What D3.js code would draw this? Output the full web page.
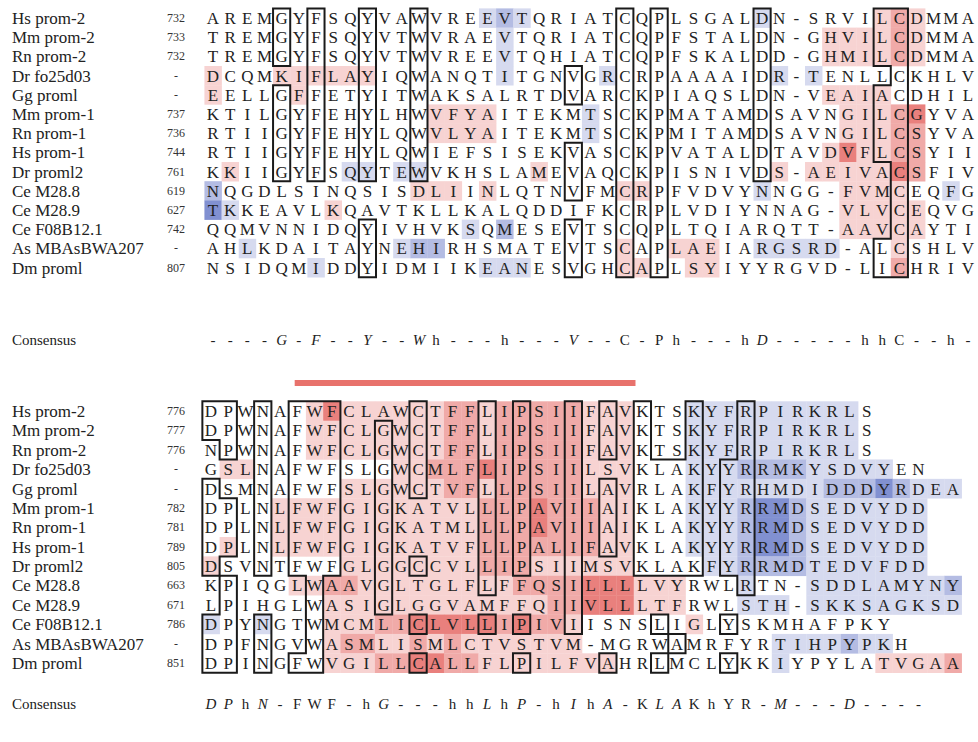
<!DOCTYPE html>
<html><head><meta charset="utf-8">
<script src="https://cdn.jsdelivr.net/npm/d3@7"></script>
<style>body{margin:0;background:#fff}</style>
</head><body>
<svg id="c" width="978" height="742" font-family="Liberation Serif"></svg>
<script>
// ---------------- DATA ----------------
const names = ["Hs prom-2","Mm prom-2","Rn prom-2","Dr fo25d03","Gg proml","Mm prom-1","Rn prom-1","Hs prom-1","Dr proml2","Ce M28.8","Ce M28.9","Ce F08B12.1","As MBAsBWA207","Dm proml"];
const startsTop = ["732","733","732","-","-","737","736","744","761","619","627","742","-","807"];
const startsBottom = ["776","777","776","-","-","782","781","789","805","663","671","786","-","851"];
const seqTop = [
 "AREMGYFSQYVAWVREEVTQRIATCQPLSGALDN-SRVILCDMMA",
 "TREMGYFSQYVTWVRAEVTQRIATCQPFSTALDN-GHVILCDMMA",
 "TREMGYFSQYVTWVREEVTQHIATCQPFSKALDD-GHMILCDMMA",
 "DCQMKIFLAYIQWANQTITGNVGRCRPAAAAIDR-TENLLCKHLV",
 "EELLGFFETYITWAKSALRTDVARCKPIAQSLDN-VEAIACDHIL",
 "KTILGYFEHYLHWVFYAITEKMTSCKPMATAMDSAVNGILCGYVA",
 "RTIIGYFEHYLQWVLYAITEKMTSCKPMITAMDSAVNGILCSYVA",
 "RTIIGYFEHYLQWIEFSISEKVASCKPVATALDTAVDVFLCSYII",
 "KKIIGYFSQYTEWVKHSLAMEVAQCKPISNIVDS-AEIVACSFIV",
 "NQGDLSINQSISDLIINLQTNVFMCRPFVDVYNNGG-FVMCEQFG",
 "TKKEAVLKQAVTKLLKALQDDIFKCRPLVDIYNNAG-VLVCEQVG",
 "QQMVNNIDQYIVHVKSQMESEVTSCQPLTQIARQTT-AAVCAYTI",
 "AHLKDAITAYNEHIRHSMATEVTSCAPLAEIARGSRD-ALCSHLV",
 "NSIDQMIDDYIDMIIKEANESVGHCAPLSYIYYRGVD-LICHRIV"
];
const seqBottom = [
 "DPWNAFWFCLAWCTFFLIPSIIFAVKTSKYFRPIRKRLS",
 "DPWNAFWFCLGWCTFFLIPSIIFAVKTSKYFRPIRKRLS",
 "NPWNAFWFCLGWCTFFLIPSIIFAVKTSKYFRPIRKRLS",
 "GSLNAFWFSLGWCMLFLIPSIILSVKLAKYYRRMKYSDVYEN",
 "DSMNAFWFSLGWCTVFLLPSIILAVRLAKFYRHMDIDDDYRDEA",
 "DPLNLFWFGIGKATVLLLPAVIIAIKLAKYYRRMDSEDVYDD",
 "DPLNLFWFGIGKATMLLLPAVIIAIKLAKYYRRMDSEDVYDD",
 "DPLNLFWFGIGKATVFLLPALIFAVKLAKYYRRMDSEDVYDD",
 "DSVNTFWFGLGGCCVLLIPSIIMSVKLAKFYRRMDTEDVFDD",
 "KPIQGLWAAVGLTGLFLFFQSILLLLVYRWLRTN-SDDLAMYNY",
 "LPIHGLWASIGLGGVAMFFQIIVLLLTFRWLSTH-SKKSAGKSD",
 "DPYNGTWMCMLICLVLLIPIVIISNSLIGLYSKMHAFPKY",
 "DPFNGVWASMLISMLCTVSTVM-MGRWAMRFYRTIHPYPKH",
 "DPINGFWVGILLCALLFLPILFVAHRLMCLYKKIYPYLATVGAA"
];
const consensusTop    = "----G-F--Y--Wh---h---V--C-Ph---hD-----hhC--h-";
const consensusBottom = "DPhN-FWF-hG---hhLhP-hIhA-KLAKhYR-M---D----";
const italicTop = "GFYWVD";
const italicBottom = "DPNGLIAM";
// shading: code@col or code@from-to ; 1..3 red intensity, a..c blue intensity
const shadeTop = [
 "a@16 b@17 a@18 a@32 1@39 2@40 1@41",
 "a@17 1@36-39 2@40 1@41",
 "a@17 1@36-39 2@40 1@41",
 "1@0 1@4-9 a@17 a@23 a@33 a@35",
 "1@0 1@5 1@36-39",
 "1@13-16 a@22 1@37-39 2@40 3@41",
 "1@13-16 a@22 1@37-39 2@40 2@41",
 "1@36 3@37 1@38-39 2@40 2@41",
 "1@1 a@8-9 a@11-12 1@19 1@33 1@35-39 3@40 2@41",
 "b@0 1@12-14 1@16 1@24-25 a@32 1@37-40 a@43",
 "c@0 a@1 1@7 1@37-41",
 "a@15 b@17 1@37-41",
 "a@2 a@11 b@12-13 1@24 1@27-29 a@32-36 1@40",
 "a@6 a@16-18 1@24-25 1@28-29 2@40"
];
const shadeBottom = [
 "1@6 3@7 1@8-13 2@14-15 1@16 2@17-21 1@22-24 a@28-37",
 "1@6-13 2@14-15 1@16 2@17-21 1@22-24 a@28-37",
 "1@6-13 2@14-15 1@16 2@17-21 1@22-24 a@28-37",
 "1@1-2 1@11-12 2@13-15 3@16 2@17-21 1@22-24 a@28-30 b@31-34 a@35-39",
 "1@8-13 2@14-15 1@16 2@17-21 1@22-24 a@28-35 b@36-38 c@39 b@40 a@41-43",
 "1@4-15 2@16-18 3@19 2@20-22 1@23-24 a@28-30 b@31 c@32-33 b@34 a@35-41",
 "1@4-15 2@16-18 3@19 2@20-22 1@23-24 a@28-30 b@31 c@32-33 b@34 a@35-41",
 "1@1 1@4-15 2@16-22 1@23-24 a@28-30 b@31 c@32-33 b@34 a@35-41",
 "1@0 1@8-15 2@16-18 1@19-24 a@29-30 b@31-34 a@35-41",
 "1@5-6 2@7-8 1@9-17 2@18-21 3@22-24 1@25-27 a@31 a@35-42 b@43",
 "1@7-19 2@20-21 3@22-24 1@25-27 a@31-33 a@35-43",
 "a@0 a@3 1@7-9 2@10-11 3@12-16 2@17 3@18 2@19-20 1@21 1@28",
 "1@7 2@8-9 1@10-11 2@12 1@13 2@14 1@15-21 a@33-36 b@37 a@38-39",
 "1@7-9 2@10-11 3@12-13 2@14-15 1@16-23 a@33 1@39-42 2@43"
];
// boxes: each group = list of [col, rowFrom, rowTo]
const boxesTop = [
 [[4,0,2]], [[4,4,8]], [[6,0,8]], [[9,0,8]], [[9,11,13]], [[12,0,8]],
 [[21,3,4]], [[21,7,9]], [[21,11,13]], [[24,0,13]], [[26,0,13]], [[32,0,8]],
 [[40,0,13],[39,0,2],[39,4,7],[39,12,13]]
];
const boxesBottom = [
 [[0,0,1],[1,0,2]], [[0,4,8],[1,5,7]], [[1,9,10],[0,11,13],[1,11,13]],
 [[3,0,8]], [[3,11,13]],
 [[5,0,8],[6,0,13],[7,0,8],[5,13,13]],
 [[10,1,10]], [[12,0,4]], [[12,8,8]], [[12,11,11]], [[12,13,13]],
 [[16,0,9]], [[16,11,11]], [[18,0,8]], [[18,11,11]], [[18,13,13]],
 [[21,0,11]], [[23,0,2]], [[23,4,7]], [[23,13,13]],
 [[25,0,8],[26,3,8],[27,3,8],[28,0,8]],
 [[31,0,9],[30,3,8]],
 [[26,11,11],[27,12,12],[26,13,13]],
 [[30,11,11]], [[30,13,13]]
];
const highlightCols = [5, 24];

// ---------------- DRAW ----------------
const colors = {"1":"#f7d3d2","2":"#f0aaa8","3":"#e9807d","a":"#d6daef","b":"#b4bce3","c":"#8190d1"};
const FONT = "Liberation Serif";
const svg = d3.select("#c");

function parseShade(s){
  const m = new Map();
  s.split(/\s+/).filter(Boolean).forEach(t=>{
    const [code, rng] = t.split("@");
    const [a,b] = rng.split("-").map(Number);
    for(let i=a;i<=(b===undefined?a:b);i++) m.set(i, code);
  });
  return m;
}

function drawBlock(cfg){
  const {seqs, starts, shades, boxes, consensus, italics, x0, x1, ncol, y0, y1, consY} = cfg;
  const x = d3.scaleLinear().domain([0, ncol-1]).range([x0, x1]);
  const y = d3.scaleLinear().domain([0, names.length-1]).range([y0, y1]);
  const cw = x(1)-x(0), ch = y(1)-y(0);
  const g = svg.append("g");
  shades.forEach((s,r)=>{
    parseShade(s).forEach((code,c)=>{
      g.append("rect").attr("x", x(c)-cw/2).attr("y", y(r)-ch/2)
        .attr("width", cw+0.3).attr("height", ch+0.3).attr("fill", colors[code]);
    });
  });
  names.forEach((n,r)=>{
    g.append("text").attr("x",12).attr("y",y(r)+6)
      .attr("font-family",FONT).attr("font-size",17).attr("fill","#222").text(n);
    g.append("text").attr("x",176).attr("y",y(r)+4).attr("text-anchor","middle")
      .attr("font-family",FONT).attr("font-size",12).attr("fill","#333").text(starts[r]);
  });
  seqs.forEach((s,r)=>{
    g.selectAll(null).data(s.split("")).enter().append("text")
      .attr("x",(d,i)=>x(i)).attr("y",y(r)+6).attr("text-anchor","middle")
      .attr("font-family",FONT).attr("font-size",17).attr("fill","#222").text(d=>d);
  });
  boxes.forEach(grp=>{
    const set = new Set();
    grp.forEach(([c,a,b])=>{ for(let r=a;r<=b;r++) set.add(r+","+c); });
    const has=(r,c)=>set.has(r+","+c);
    let p = d3.path();
    set.forEach(k=>{
      const [r,c]=k.split(",").map(Number);
      const L=x(c)-cw/2, R=x(c)+cw/2, T=y(r)-ch/2, B=y(r)+ch/2;
      if(!has(r-1,c)){p.moveTo(L,T);p.lineTo(R,T);}
      if(!has(r+1,c)){p.moveTo(L,B);p.lineTo(R,B);}
      if(!has(r,c-1)){p.moveTo(L,T);p.lineTo(L,B);}
      if(!has(r,c+1)){p.moveTo(R,T);p.lineTo(R,B);}
    });
    g.append("path").attr("d",p.toString()).attr("fill","none").attr("stroke","#1a1a1a")
      .attr("stroke-width",2).attr("stroke-linecap","square");
  });
  g.append("text").attr("x",12).attr("y",consY+5)
    .attr("font-family",FONT).attr("font-size",15).attr("fill","#222").text("Consensus");
  g.selectAll(null).data(consensus.split("")).enter().append("text")
    .attr("x",(d,i)=>x(i)).attr("y",consY+5).attr("text-anchor","middle")
    .attr("font-family",FONT).attr("font-size",15).attr("fill","#222")
    .attr("font-style",d=>italics.includes(d)?"italic":"normal").text(d=>d);
  return x;
}

drawBlock({seqs:seqTop, starts:startsTop, shades:shadeTop, boxes:boxesTop, consensus:consensusTop,
  italics:italicTop, x0:213, x1:968, ncol:45, y0:18, y1:267.6, consY:340});
const xb = drawBlock({seqs:seqBottom, starts:startsBottom, shades:shadeBottom, boxes:boxesBottom, consensus:consensusBottom,
  italics:italicBottom, x0:211, x1:953, ncol:44, y0:411, y1:663, consY:704});

svg.append("rect").attr("x", xb(highlightCols[0]-0.15)).attr("y",380)
  .attr("width", xb(highlightCols[1]+0.6)-xb(highlightCols[0]-0.15)).attr("height",6).attr("fill","#e8726c");
</script>
</body></html>
